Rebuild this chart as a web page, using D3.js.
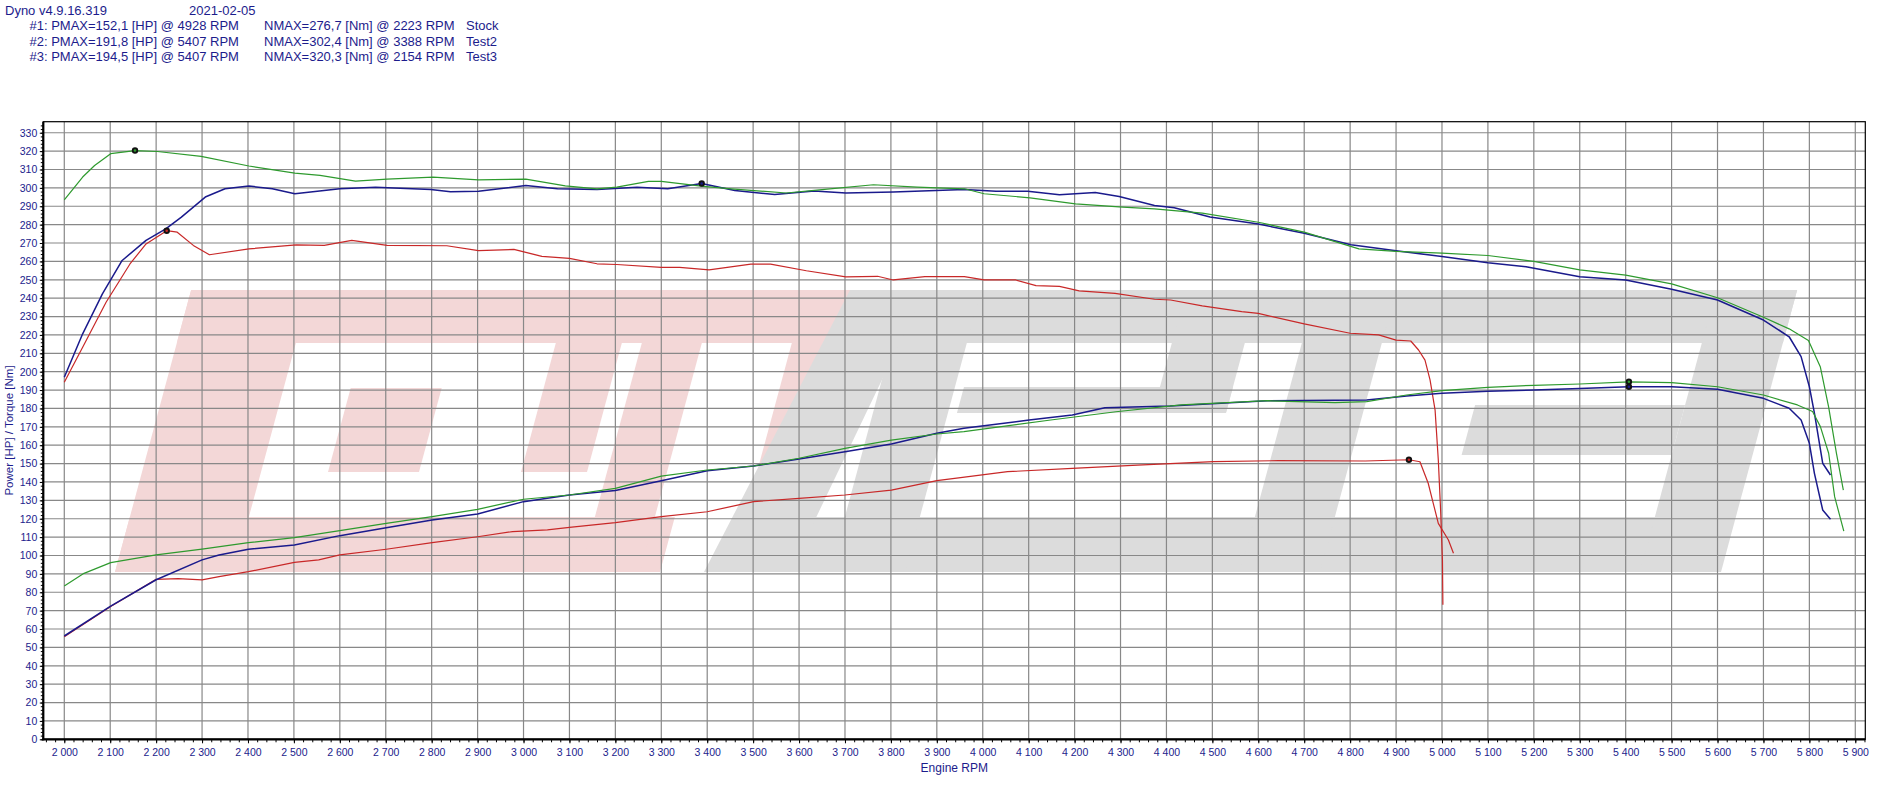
<!DOCTYPE html>
<html>
<head>
<meta charset="utf-8">
<script src="https://cdn.jsdelivr.net/npm/d3@7/dist/d3.min.js"></script>
<style>
	body { margin: 0; background: #ffffff; }
	text { font-family: Arial, "Liberation Sans", sans-serif; }
</style>
</head>
<body>
<div id="dyno"></div>
<script>
/** Data **/
var runNames = ["Stock", "Test2", "Test3"];
var pmaxValues = [152.1, 191.8, 194.5];
var pmaxRpm = [4928, 5407, 5407];
var nmaxValues = [276.7, 302.4, 320.3];
var nmaxRpm = [2223, 3388, 2154];
var softwareVersion = "Dyno v4.9.16.319";
var runDate = "2021-02-05";

// [rpm, Nm]
var stockTorque = [[2000,194.2],[2040,213.3],[2091,237.8],[2143,258.6],[2178,269.5],[2223,276.7],[2246,275.9],[2281,268.7],[2316,263.6],[2402,266.8],[2505,269.0],[2566,268.7],[2626,271.4],[2703,268.7],[2833,268.5],[2902,265.9],[2979,266.5],[3040,262.7],[3100,261.6],[3160,258.7],[3203,258.3],[3300,256.8],[3340,256.7],[3404,255.4],[3495,258.5],[3538,258.5],[3616,254.9],[3702,251.6],[3771,251.9],[3805,249.9],[3874,251.7],[3960,251.7],[4003,249.9],[4072,249.9],[4116,246.8],[4167,246.4],[4210,244.0],[4288,242.6],[4374,239.4],[4409,239.0],[4478,235.8],[4564,232.7],[4600,231.7],[4700,226.0],[4800,220.9],[4862,220.0],[4900,217.2],[4932,216.7],[4949,211.8],[4963,206.3],[4974,195.5],[4985,179.1],[4992,152.0],[4997,124.7],[5001,97.5],[5002,73.2]];
var test2Torque = [[2000,197.0],[2040,220.6],[2083,242.3],[2126,260.5],[2178,271.4],[2221,277.7],[2255,284.1],[2307,295.0],[2350,299.5],[2402,301.0],[2453,299.5],[2502,296.8],[2600,299.5],[2678,300.4],[2798,299.1],[2841,297.9],[2902,298.1],[3005,301.3],[3074,299.5],[3160,299.1],[3247,300.4],[3314,299.5],[3388,302.4],[3460,298.6],[3547,296.4],[3633,298.3],[3702,297.2],[3805,297.7],[3960,299.1],[4029,298.2],[4098,298.1],[4167,296.2],[4245,297.5],[4297,295.3],[4374,290.4],[4417,289.2],[4495,284.1],[4600,280.3],[4700,275.3],[4802,269.0],[4900,265.8],[5000,262.6],[5100,259.3],[5183,257.1],[5300,251.7],[5400,249.9],[5500,244.8],[5600,239.0],[5700,228.1],[5756,219.0],[5782,208.2],[5800,191.8],[5811,177.4],[5829,150.2],[5846,143.8]];
var test3Torque = [[2000,293.5],[2040,305.9],[2066,312.2],[2101,318.6],[2154,320.3],[2203,319.8],[2298,317.1],[2402,311.9],[2502,308.0],[2557,306.8],[2634,303.7],[2703,304.8],[2803,305.9],[2902,304.4],[3005,304.8],[3091,301.1],[3160,299.5],[3203,300.4],[3272,303.5],[3300,303.5],[3387,301.0],[3452,299.5],[3572,297.2],[3650,299.0],[3762,301.7],[3857,300.4],[3960,299.5],[4003,296.8],[4103,294.6],[4202,291.3],[4305,289.5],[4374,288.6],[4478,286.3],[4600,281.3],[4700,275.9],[4819,266.8],[4900,265.4],[5000,264.5],[5100,263.2],[5200,260.0],[5300,255.4],[5400,252.5],[5500,247.8],[5600,240.2],[5700,229.6],[5756,223.3],[5798,217.0],[5824,202.5],[5842,180.7],[5859,155.6],[5874,135.6]];

// [rpm, HP]
var stockPower = [[2000,55.8],[2101,72.2],[2200,87.0],[2248,87.4],[2300,86.7],[2337,88.5],[2401,91.2],[2501,96.3],[2554,97.6],[2600,100.3],[2701,103.4],[2801,107.0],[2900,110.2],[2976,113.0],[3052,113.9],[3100,115.3],[3200,117.9],[3300,121.1],[3400,123.8],[3501,129.3],[3600,131.1],[3700,132.9],[3801,135.6],[3900,140.7],[3956,142.5],[4054,145.6],[4195,147.4],[4337,149.2],[4502,151.1],[4644,151.6],[4833,151.4],[4928,152.1],[4952,151.0],[4970,139.3],[4981,128.4],[4992,117.5],[5014,108.4],[5025,101.2]];
var test2Power = [[2000,56.2],[2101,72.5],[2200,86.8],[2300,97.6],[2337,100.3],[2401,103.4],[2501,105.7],[2600,110.8],[2701,115.1],[2801,119.3],[2900,122.6],[3000,129.3],[3100,132.9],[3200,135.3],[3300,140.7],[3400,146.1],[3501,148.7],[3600,152.5],[3700,156.5],[3801,160.6],[3900,166.5],[3959,169.2],[4101,173.7],[4195,176.4],[4266,180.4],[4408,181.3],[4620,184.2],[4836,184.6],[4923,186.8],[5000,188.2],[5100,189.3],[5200,190.0],[5300,190.8],[5407,191.8],[5500,191.8],[5600,190.4],[5700,185.5],[5756,180.1],[5782,173.7],[5800,161.0],[5811,144.7],[5829,124.8],[5846,119.7]];
var test3Power = [[2000,83.4],[2043,90.3],[2101,96.1],[2200,100.3],[2300,103.5],[2401,107.0],[2501,109.7],[2600,113.5],[2701,117.5],[2801,121.1],[2900,125.1],[3000,130.6],[3100,132.9],[3200,136.5],[3300,143.2],[3400,146.5],[3501,148.7],[3600,152.9],[3700,158.3],[3801,162.8],[3900,166.1],[3959,167.4],[4148,173.7],[4290,178.2],[4432,181.9],[4620,184.2],[4767,183.2],[4836,183.7],[4923,187.3],[5000,189.7],[5100,191.5],[5200,192.6],[5300,193.3],[5407,194.5],[5500,194.0],[5600,191.8],[5700,187.3],[5774,181.9],[5807,178.3],[5824,170.1],[5842,155.6],[5855,132.0],[5875,113.3]];

var rpmTicks = d3.range(2000, 5901, 100);
var valueTicks = d3.range(0, 331, 10);

/*
 * DynoChart - Object constructor function
 */
DynoChart = function(_parentElement, _runs){
	this.parentElement = _parentElement;
	this.runs = _runs;
	this.initVis();
}

DynoChart.prototype.initVis = function(){
	var vis = this;

	vis.width = 1904;
	vis.height = 791;
	vis.plot = { left: 43.3, right: 1865.3, top: 121.7, bottom: 739.3 };
	vis.ink = "#1c1c8c"; // dark blue used for all texts

	vis.svg = d3.select("#" + vis.parentElement).append("svg")
		.attr("width", vis.width)
		.attr("height", vis.height);

	vis.x = d3.scaleLinear().domain([1954.3, 5921.8]).range([vis.plot.left, vis.plot.right]);
	vis.y = d3.scaleLinear().domain([0, 336]).range([vis.plot.bottom, vis.plot.top]);

	vis.drawHeader();
	vis.drawWatermark();
	vis.drawGrid();
	vis.updateVis();
	vis.drawAxes();
}

DynoChart.prototype.drawHeader = function(){
	var vis = this;
	var comma = function(v){ return d3.format(".1f")(v).replace(".", ","); };

	vis.svg.append("text").attr("x", 5).attr("y", 15)
		.attr("font-size", 13).attr("fill", vis.ink).text(softwareVersion);
	vis.svg.append("text").attr("x", 189).attr("y", 15)
		.attr("font-size", 13).attr("fill", vis.ink).text(runDate);

	var rows = vis.svg.selectAll(".hdr").data(vis.runs).enter().append("g")
		.attr("class", "hdr")
		.attr("transform", function(d, i){ return "translate(0," + (30.4 + i * 15.4) + ")"; });
	rows.append("text").attr("x", 29.5).attr("font-size", 13).attr("fill", vis.ink)
		.text(function(d, i){ return "#" + (i + 1) + ": PMAX=" + comma(d.pmax) + " [HP] @ " + d.pmaxRpm + " RPM"; });
	rows.append("text").attr("x", 264).attr("font-size", 13).attr("fill", vis.ink)
		.text(function(d){ return "NMAX=" + comma(d.nmax) + " [Nm] @ " + d.nmaxRpm + " RPM"; });
	rows.append("text").attr("x", 466).attr("font-size", 13).attr("fill", vis.ink)
		.text(function(d){ return d.name; });
}

/*
 * Background logo: slanted block letters, pink part then grey part.
 * Each block is given unslanted at the baseline and sheared by the skew.
 */
DynoChart.prototype.drawWatermark = function(){
	var vis = this;
	var base = 572, skew = 0.27;
	var wm = vis.svg.append("g").attr("class", "watermark");

	var block = function(b){
		var u0 = b[0], u1 = b[1], y0 = b[2], y1 = b[3];
		return [[u0 + (base - y0) * skew, y0], [u1 + (base - y0) * skew, y0],
			[u1 + (base - y1) * skew, y1], [u0 + (base - y1) * skew, y1]];
	};
	var toPath = function(pts){ return "M" + pts.map(function(p){ return p.join(","); }).join("L") + "Z"; };

	var pinkBlocks = [
		[115, 234, 290, 572],
		[115, 780, 290, 343],
		[301, 392, 388, 472],
		[494, 560, 343, 472],
		[115, 660, 517, 572],
		[580, 640, 343, 572],
		[730, 780, 290, 520]
	];
	var greyBlocks = [
		[833, 1721, 290, 343],
		[760, 1650, 517, 572],
		[830, 905, 290, 572],
		[914, 1183, 387, 413],
		[1110, 1183, 290, 413],
		[1240, 1320, 290, 572],
		[1430, 1640, 405, 455],
		[1640, 1721, 290, 572]
	];

	wm.selectAll(".pink").data(pinkBlocks).enter().append("path")
		.attr("fill", "#f3d7d7")
		.attr("d", function(d){ return toPath(block(d)); });
	wm.selectAll(".grey").data(greyBlocks).enter().append("path")
		.attr("fill", "#dcdcdc")
		.attr("d", function(d){ return toPath(block(d)); });
	// leading diagonal stroke of the grey part
	wm.append("path")
		.attr("fill", "#dcdcdc")
		.attr("d", toPath([[704, 572], [790, 572], [925, 290], [850, 290]]));
}

DynoChart.prototype.drawGrid = function(){
	var vis = this;
	var grid = vis.svg.append("g").attr("class", "grid")
		.attr("stroke", "#888888").attr("stroke-width", 1.2);

	grid.selectAll(".vgrid").data(rpmTicks).enter().append("line")
		.attr("x1", function(d){ return vis.x(d); })
		.attr("x2", function(d){ return vis.x(d); })
		.attr("y1", vis.plot.top)
		.attr("y2", vis.plot.bottom);

	grid.selectAll(".hgrid").data(valueTicks.slice(1)).enter().append("line")
		.attr("y1", function(d){ return vis.y(d); })
		.attr("y2", function(d){ return vis.y(d); })
		.attr("x1", vis.plot.left)
		.attr("x2", vis.plot.right);

	// frame
	vis.svg.append("rect")
		.attr("x", vis.plot.left).attr("y", vis.plot.top)
		.attr("width", vis.plot.right - vis.plot.left)
		.attr("height", vis.plot.bottom - vis.plot.top)
		.attr("fill", "none").attr("stroke", "#000").attr("stroke-width", 1.2);
}

DynoChart.prototype.updateVis = function(){
	var vis = this;

	var line = d3.line()
		.x(function(d){ return vis.x(d[0]); })
		.y(function(d){ return vis.y(d[1]); });

	var curves = [];
	vis.runs.forEach(function(r){
		curves.push({ color: r.color, width: r.width, values: r.torque });
		curves.push({ color: r.color, width: r.width, values: r.power });
	});

	vis.svg.append("g").attr("class", "curves")
		.selectAll("path").data(curves).enter().append("path")
		.attr("fill", "none")
		.attr("stroke", function(d){ return d.color; })
		.attr("stroke-width", function(d){ return d.width; })
		.attr("stroke-linejoin", "round")
		.attr("d", function(d){ return line(d.values); });

	// max markers
	var markers = [];
	vis.runs.forEach(function(r){
		markers.push({ color: r.color, rpm: r.nmaxRpm, value: r.nmax });
		markers.push({ color: r.color, rpm: r.pmaxRpm, value: r.pmax });
	});
	var m = vis.svg.append("g").attr("class", "markers")
		.selectAll("g").data(markers).enter().append("g")
		.attr("transform", function(d){ return "translate(" + vis.x(d.rpm) + "," + vis.y(d.value) + ")"; });
	m.append("circle").attr("r", 3.2).attr("fill", "#111");
	m.append("circle").attr("r", 1.3).attr("fill", function(d){ return d.color; });
}

DynoChart.prototype.drawAxes = function(){
	var vis = this;
	var spaced = function(d){ return d3.format(",")(d).replace(",", " "); };

	// bottom axis: minor ticks every 20 rpm, labelled every 100
	var xMinor = vis.svg.append("g")
		.attr("transform", "translate(0," + vis.plot.bottom + ")")
		.call(d3.axisBottom(vis.x).tickValues(d3.range(1960, 5921, 20)).tickSize(3).tickFormat(""));
	var xMajor = vis.svg.append("g")
		.attr("transform", "translate(0," + vis.plot.bottom + ")")
		.call(d3.axisBottom(vis.x).tickValues(rpmTicks).tickSize(4).tickPadding(5).tickFormat(spaced));

	// left axis: minor ticks every 2, labelled every 10
	var yMinor = vis.svg.append("g")
		.attr("transform", "translate(" + vis.plot.left + ",0)")
		.call(d3.axisLeft(vis.y).tickValues(d3.range(0, 336, 2)).tickSize(2.5).tickFormat(""));
	var yMajor = vis.svg.append("g")
		.attr("transform", "translate(" + vis.plot.left + ",0)")
		.call(d3.axisLeft(vis.y).tickValues(valueTicks).tickSize(3.5).tickPadding(2.5));

	[xMinor, xMajor, yMinor, yMajor].forEach(function(a){
		a.select(".domain").remove();
		a.selectAll(".tick line").attr("stroke", "#000").attr("stroke-width", 1);
	});
	xMajor.selectAll("text").attr("font-size", 10.5).attr("fill", vis.ink).attr("font-family", "Arial, 'Liberation Sans', sans-serif");
	yMajor.selectAll("text").attr("font-size", 10.5).attr("fill", vis.ink).attr("font-family", "Arial, 'Liberation Sans', sans-serif");

	// heavy axis lines
	vis.svg.append("line")
		.attr("x1", vis.plot.left).attr("x2", vis.plot.left)
		.attr("y1", vis.plot.top).attr("y2", vis.plot.bottom + 1)
		.attr("stroke", "#000").attr("stroke-width", 2.2);
	vis.svg.append("line")
		.attr("x1", vis.plot.left - 1).attr("x2", vis.plot.right)
		.attr("y1", vis.plot.bottom).attr("y2", vis.plot.bottom)
		.attr("stroke", "#000").attr("stroke-width", 2.2);

	vis.svg.append("text")
		.attr("x", (vis.plot.left + vis.plot.right) / 2).attr("y", 771.5)
		.attr("text-anchor", "middle").attr("font-size", 12).attr("fill", vis.ink)
		.text("Engine RPM");
	vis.svg.append("text")
		.attr("transform", "translate(12.5," + ((vis.plot.top + vis.plot.bottom) / 2) + ") rotate(-90)")
		.attr("text-anchor", "middle").attr("font-size", 11.5).attr("fill", vis.ink)
		.text("Power [HP] / Torque [Nm]");
}

var runs = runNames.map(function(name, i){
	return {
		name: name,
		pmax: pmaxValues[i], pmaxRpm: pmaxRpm[i],
		nmax: nmaxValues[i], nmaxRpm: nmaxRpm[i],
		torque: [stockTorque, test2Torque, test3Torque][i],
		power: [stockPower, test2Power, test3Power][i],
		color: ["#c82828", "#1a1a8c", "#2e9a2e"][i],
		width: [1.2, 1.5, 1.2][i]
	};
});

var chart = new DynoChart("dyno", runs);
</script>
</body>
</html>
